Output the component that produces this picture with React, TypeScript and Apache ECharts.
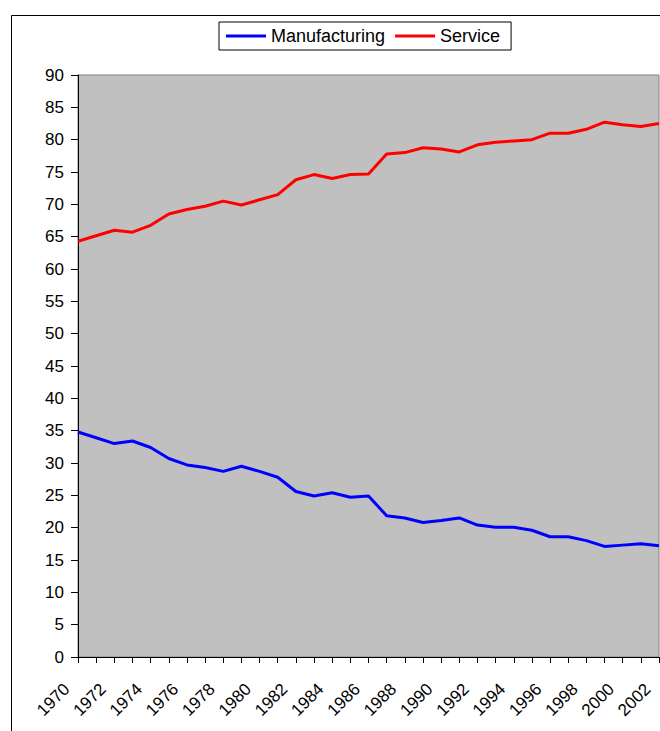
import React, { useEffect, useRef } from "react";
import * as echarts from "echarts";

const years: string[] = [];
for (let y = 1970; y <= 2002; y++) years.push(String(y));

const manufacturing = [
  34.8, 33.9, 33.0, 33.4, 32.4, 30.7, 29.7, 29.3, 28.7, 29.5, 28.7, 27.8, 25.6,
  24.9, 25.4, 24.7, 24.9, 21.85, 21.5, 20.8, 21.1, 21.5, 20.4, 20.05, 20.05,
  19.6, 18.6, 18.6, 18.0, 17.1, 17.3, 17.5, 17.2,
];
const service = [
  64.3, 65.15, 66.0, 65.7, 66.75, 68.5, 69.2, 69.7, 70.5, 69.9, 70.7, 71.5,
  73.8, 74.6, 74.0, 74.6, 74.7, 77.8, 78.0, 78.75, 78.55, 78.1, 79.2, 79.6,
  79.8, 80.0, 81.0, 81.0, 81.6, 82.7, 82.3, 82.05, 82.5,
];

const FONT = "Liberation Sans, Arial, sans-serif";

export default function App() {
  const ref = useRef<HTMLDivElement>(null);
  useEffect(() => {
    if (!ref.current) return;
    const chart = echarts.init(ref.current, undefined, { renderer: "svg" });
    chart.setOption({
      animation: false,
      backgroundColor: "#ffffff",
      graphic: [
        {
          type: "rect",
          shape: { x: 11.5, y: 15.5, width: 700, height: 760 },
          style: { fill: "none", stroke: "#000", lineWidth: 1 },
          z: -1,
        },
      ],
      legend: {
        left: 219,
        top: 22,
        data: ["Manufacturing", "Service"],
        icon: "rect",
        itemWidth: 40,
        itemHeight: 3,
        itemGap: 10,
        borderColor: "#000",
        borderWidth: 1,
        borderRadius: 0,
        padding: [5, 11, 5, 7],
        textStyle: { fontFamily: FONT, fontSize: 18, color: "#000" },
      },
      grid: {
        left: 78,
        top: 75,
        right: 1,
        bottom: 74,
        show: true,
        backgroundColor: "#c0c0c0",
        borderColor: "#808080",
        borderWidth: 1,
        containLabel: false,
        outerBoundsMode: "none",
      },
      xAxis: {
        type: "category",
        data: years,
        boundaryGap: false,
        axisLine: { lineStyle: { color: "#000", width: 1 } },
        axisTick: { show: true, interval: 0, length: 6, lineStyle: { color: "#000" } },
        axisLabel: {
          interval: 1,
          rotate: 45,
          fontFamily: FONT,
          fontSize: 17,
          color: "#000",
          margin: 18,
          padding: [0, 16, 0, 0],
          hideOverlap: false,
          showMaxLabel: true,
        },
        splitLine: { show: false },
      },
      yAxis: {
        type: "value",
        min: 0,
        max: 90,
        interval: 5,
        axisLine: { show: true, lineStyle: { color: "#000", width: 1 } },
        axisTick: { show: true, length: 7, lineStyle: { color: "#000" } },
        axisLabel: { fontFamily: FONT, fontSize: 17, color: "#000", margin: 14 },
        splitLine: { show: false },
      },
      series: [
        {
          name: "Manufacturing",
          type: "line",
          data: manufacturing,
          symbol: "none",
          color: "#0000ff",
          lineStyle: { color: "#0000ff", width: 3 },
        },
        {
          name: "Service",
          type: "line",
          data: service,
          symbol: "none",
          color: "#ff0000",
          lineStyle: { color: "#ff0000", width: 3 },
        },
      ],
    });
    return () => chart.dispose();
  }, []);
  return (
    <div
      ref={ref}
      style={{ position: "fixed", left: 0, top: 0, width: 660, height: 731 }}
    />
  );
}
